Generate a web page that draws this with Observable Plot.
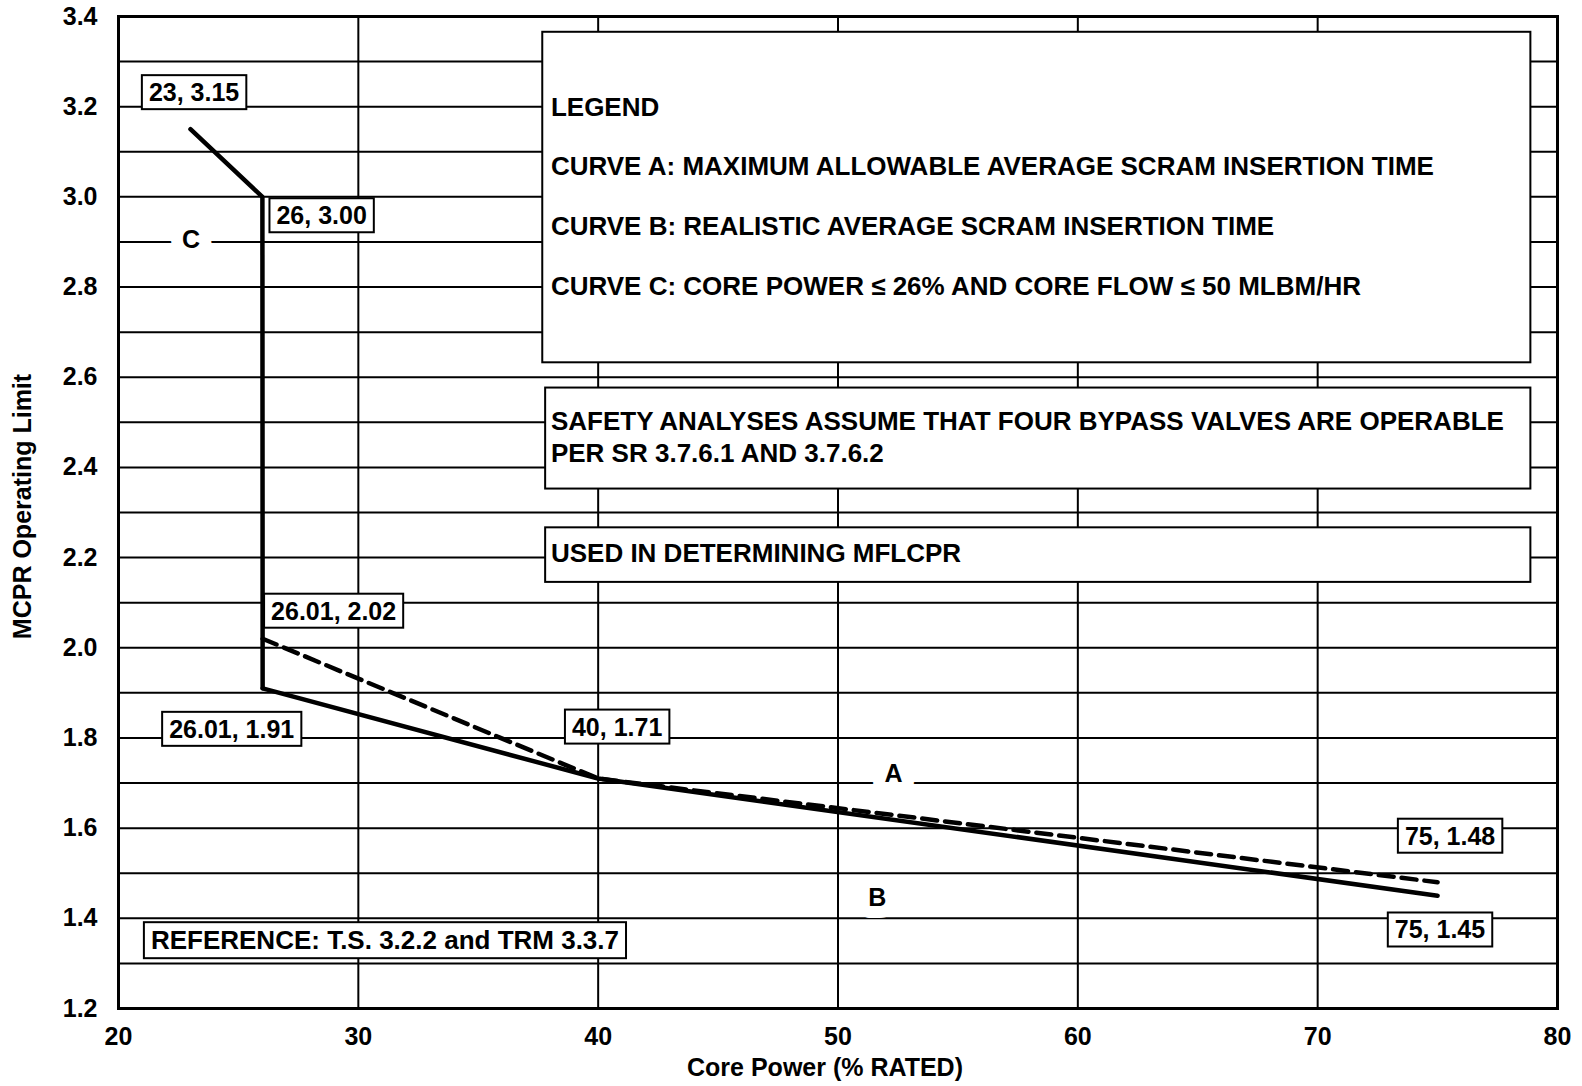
<!DOCTYPE html>
<html><head><meta charset="utf-8">
<script src="https://cdn.jsdelivr.net/npm/d3@7"></script>
<script src="https://cdn.jsdelivr.net/npm/@observablehq/plot@0.6"></script>
<style>
body{margin:0;background:#fff;}
#chart svg{display:block;}
</style></head><body><div id="chart"></div>
<script>
// ---- data ----
const curveCx = [23, 26, 26.01];
const curveCy = [3.15, 3.00, 1.91];
const curveBx = [26.01, 40, 75];
const curveBy = [1.91, 1.71, 1.45];
const curveAx = [26.01, 40, 75];
const curveAy = [2.02, 1.71, 1.48];

const xTicks = [20, 30, 40, 50, 60, 70, 80];
const yTicks = [1.2, 1.4, 1.6, 1.8, 2.0, 2.2, 2.4, 2.6, 2.8, 3.0, 3.2, 3.4];
const yGrid = [1.3, 1.4, 1.5, 1.6, 1.7, 1.8, 1.9, 2.0, 2.1, 2.2, 2.3, 2.4, 2.5, 2.6, 2.7, 2.8, 2.9, 3.0, 3.1, 3.2, 3.3];

const xLabel = "Core Power (% RATED)";
const yLabel = "MCPR Operating Limit";

// annotation labels (boxed)
const pointLabels = ["23, 3.15", "26, 3.00", "26.01, 2.02", "26.01, 1.91", "40, 1.71", "75, 1.48", "75, 1.45"];
const pointLabelX = [23.15, 28.47, 28.97, 24.72, 40.79, 75.52, 75.1];
const pointLabelY = [3.23, 2.957, 2.08, 1.818, 1.823, 1.581, 1.373];
const refLabel = ["REFERENCE: T.S. 3.2.2 and TRM 3.3.7"];
const refX = [31.11];
const refY = [1.35];

// curve names
const curveNames = ["C", "A", "B"];
const curveNameX = [23.02, 52.32, 51.64];
const curveNameY = [2.905, 1.72, 1.446];

// note boxes
const boxX1 = [37.69, 37.81, 37.81];
const boxX2 = [78.89, 78.89, 78.89];
const boxY1 = [3.365, 2.576, 2.266];
const boxY2 = [2.632, 2.352, 2.145];

const noteLines = [
  "LEGEND",
  "CURVE A: MAXIMUM ALLOWABLE AVERAGE SCRAM INSERTION TIME",
  "CURVE B: REALISTIC AVERAGE SCRAM INSERTION TIME",
  "CURVE C: CORE POWER \u2264 26% AND CORE FLOW \u2264 50 MLBM/HR",
  "SAFETY ANALYSES ASSUME THAT FOUR BYPASS VALVES ARE OPERABLE",
  "PER SR 3.7.6.1 AND 3.7.6.2",
  "USED IN DETERMINING MFLCPR"
];
const noteX = [38.03, 38.03, 38.03, 38.03, 38.03, 38.03, 38.03];
const noteY = [3.197, 3.067, 2.934, 2.8, 2.502, 2.43, 2.208];

const FONT = "'Liberation Sans', Arial, Helvetica, sans-serif";

const plot = Plot.plot({
  width: 1582,
  height: 1086,
  marginLeft: 118,
  marginRight: 25,
  marginTop: 16,
  marginBottom: 78,
  style: {fontFamily: FONT, fontWeight: "bold", fontSize: "25px", color: "black", background: "white"},
  x: {domain: [20, 80]},
  y: {domain: [1.2, 3.4]},
  marks: [
    Plot.ruleY(yGrid, {stroke: "black", strokeWidth: 2}),
    Plot.ruleX(xTicks, {stroke: "black", strokeWidth: 2}),
    Plot.frame({stroke: "black", strokeWidth: 3}),
    Plot.axisY(yTicks, {tickSize: 0, tickPadding: 21, tickFormat: d => d.toFixed(1), fontSize: 25, fontWeight: "bold", label: null}),
    Plot.axisX(xTicks, {tickSize: 0, tickPadding: 19, fontSize: 25, fontWeight: "bold", label: null}),
    Plot.text([yLabel], {frameAnchor: "left", text: d => d, rotate: -90, textAnchor: "middle", lineAnchor: "middle", dx: -96, dy: -6, fontSize: 25, fontWeight: "bold"}),
    Plot.text([xLabel], {frameAnchor: "bottom", text: d => d, lineAnchor: "middle", textAnchor: "middle", dy: 59, dx: -13, fontSize: 25, fontWeight: "bold"}),
    Plot.rect(boxX1, {x1: boxX1, x2: boxX2, y1: boxY1, y2: boxY2, fill: "white", stroke: "black", strokeWidth: 2}),
    Plot.text(noteLines, {x: noteX, y: noteY, text: noteLines, textAnchor: "start", fontSize: 26, fontWeight: "bold"}),
    Plot.line(curveCy, {x: curveCx, y: curveCy, stroke: "black", strokeWidth: 4.5, strokeLinejoin: "round"}),
    Plot.line(curveBy, {x: curveBx, y: curveBy, stroke: "black", strokeWidth: 4.5, strokeLinejoin: "round"}),
    Plot.line(curveAy, {x: curveAx, y: curveAy, stroke: "black", strokeWidth: 4.5, strokeDasharray: "15,8"}),
    Plot.text(pointLabels, {x: pointLabelX, y: pointLabelY, text: pointLabels, fontSize: 25, fontWeight: "bold"}),
    Plot.text(refLabel, {x: refX, y: refY, text: refLabel, fontSize: 26, fontWeight: "bold"}),
    Plot.text(curveNames, {x: curveNameX, y: curveNameY, text: curveNames, fontSize: 25, fontWeight: "bold", stroke: "white", strokeWidth: 24, fill: "black"})
  ]
});

document.getElementById("chart").appendChild(plot);

// draw boxes behind the annotation labels
const labelSet = new Set([...pointLabels, ...refLabel]);
plot.querySelectorAll("text").forEach(t => {
  if (!labelSet.has(t.textContent)) return;
  const b = t.getBBox();
  const r = document.createElementNS("http://www.w3.org/2000/svg", "rect");
  const px = 7, py = 3;
  r.setAttribute("x", b.x - px);
  r.setAttribute("y", b.y - py);
  r.setAttribute("width", b.width + 2 * px);
  r.setAttribute("height", b.height + 2 * py);
  r.setAttribute("fill", "white");
  r.setAttribute("stroke", "black");
  r.setAttribute("stroke-width", 2);
  const tr = t.getAttribute("transform");
  if (tr) r.setAttribute("transform", tr);
  t.parentNode.insertBefore(r, t);
});
</script>
</body></html>
